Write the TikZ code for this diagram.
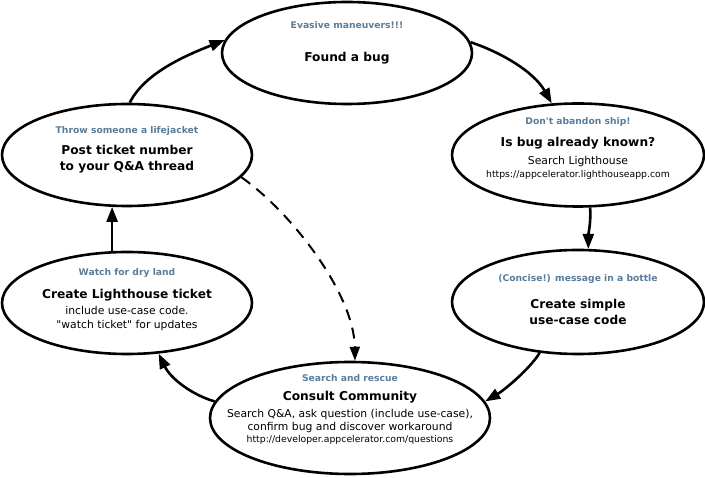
\documentclass[tikz,border=0pt]{standalone}
\usepackage{fontspec}
\setmainfont{DejaVu Sans}[Ligatures=TeXOff]
\usetikzlibrary{shapes.geometric,arrows.meta}
\definecolor{subc}{HTML}{5B7C99}
\begin{document}
\begin{tikzpicture}[x=1pt,y=-1pt,
  oval/.style={ellipse,draw,line width=2.6pt,inner sep=0pt},
  sub/.style={text=subc,font=\fontsize{9.2}{11}\selectfont\bfseries},
  ttl/.style={font=\fontsize{12.2}{16}\selectfont\bfseries,align=center},
  body/.style={font=\fontsize{10.8}{13.5}\selectfont,align=center},
  url/.style={font=\fontsize{9.3}{11}\selectfont},
  arr/.style={line width=2.6pt,-{Triangle[length=15pt,width=11pt]}},
  darr/.style={line width=2pt,dash pattern=on 11pt off 8pt,-{Triangle[length=14pt,width=10pt]}}]
\useasboundingbox (0,0) rectangle (705,478);
% ellipses
\node[oval,minimum width=250pt,minimum height=102pt] (e1) at (347,53) {};
\node[oval,minimum width=252pt,minimum height=103pt] (e2) at (578,155) {};
\node[oval,minimum width=252pt,minimum height=104pt] (e3) at (578,302) {};
\node[oval,minimum width=280pt,minimum height=112pt] (e4) at (350,418) {};
\node[oval,minimum width=250pt,minimum height=102pt] (e5) at (127,303) {};
\node[oval,minimum width=250pt,minimum height=102pt] (e6) at (127,155) {};
% texts
\node[sub] (s1) at (347,25) {Evasive maneuvers!!!};
\node[ttl] (t1) at (347,58) {Found a bug};
\node[sub] (s2) at (578,122) {Don't abandon ship!};
\node[ttl] (t2) at (578,143) {Is bug already known?};
\node[body] (b2) at (578,162) {Search Lighthouse};
\node[url] (u2) at (578,175) {https://appcelerator.lighthouseapp.com};
\node[sub] (s3) at (578,279) {(Concise!) message in a bottle};
\node[ttl] (t3) at (578,312) {Create simple\\use-case code};
\node[sub] (s4) at (350,378) {Search and rescue};
\node[ttl] (t4) at (350,397) {Consult Community};
\node[body] (b4) at (350,421) {Search Q\&A, ask question (include use-case),\\confirm bug and discover workaround};
\node[url] (u4) at (350,440) {http://developer.appcelerator.com/questions};
\node[sub] (s5) at (127,273) {Watch for dry land};
\node[ttl] (t5) at (127,295) {Create Lighthouse ticket};
\node[body] (b5) at (127,318.5) {include use-case code.\\"watch ticket" for updates};
\node[sub] (s6) at (127,131) {Throw someone a lifejacket};
\node[ttl] (t6) at (127,159.5) {Post ticket number\\to your Q\&A thread};
% connectors
\draw[arr] (e6.87) .. controls +(15,-30) and +(-38,15) .. (e1.174);
\draw[arr] (e1.5) .. controls +(30,10) and +(-18,-32) .. (e2.117);
\draw[arr] (e2.-77) .. controls +(1,15) and +(0,-15) .. (e3.79);
\draw[arr] (e3.-127) .. controls +(-10,16) and +(20,-12) .. (e4.7);
\draw[arr] (e4.173) .. controls +(-22,-6) and +(12,25) .. (e5.-58);
\draw[arr] (e5.106.5) -- (e6.-106.5);
\draw[darr] (e6.-11.6) .. controls +(50,35) and +(-1,-67) .. (e4.85);
\end{tikzpicture}
\end{document}
